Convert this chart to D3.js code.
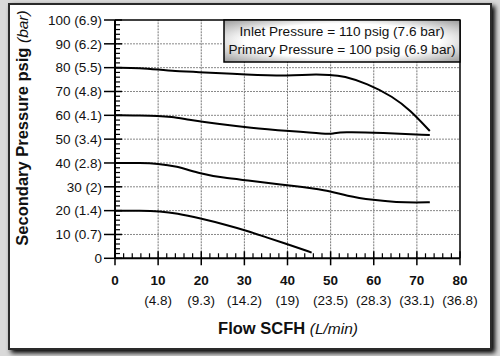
<!DOCTYPE html>
<html><head><meta charset="utf-8">
<script src="https://cdn.jsdelivr.net/npm/d3@7"></script>
<style>body{margin:0;background:#fff;}svg{display:block;font-family:"Liberation Sans",Arial,sans-serif;}</style>
</head><body>
<script>
// ---- data ----
const xTicks = [0,10,20,30,40,50,60,70,80];
const xSubLabels = ["", "(4.8)", "(9.3)", "(14.2)", "(19)", "(23.5)", "(28.3)", "(33.1)", "(36.8)"];
const yTicks = [0,10,20,30,40,50,60,70,80,90,100];
const yLabels = ["0","10 (0.7)","20 (1.4)","30 (2)","40 (2.8)","50 (3.4)","60 (4.1)","70 (4.8)","80 (5.5)","90 (6.2)","100 (6.9)"];
const legendLines = ["Inlet Pressure = 110 psig (7.6 bar)", "Primary Pressure = 100 psig (6.9 bar)"];

const flow80 = [0,6,10,14,18,31,40.6,45,50,53,58.4,64.5,68.4,73];
const psig80 = [80,79.9,79.2,78.5,78.3,77,76.5,77.2,77,76.5,73.4,67.8,62.2,53.4];
const flow60 = [0,6,10,13,16.7,23.7,31.3,40.6,49,50.5,52.5,62,73];
const psig60 = [60,59.9,59.8,59.4,58.3,56.4,54.8,53.4,52.2,52.3,53.1,52.7,51.7];
const flow40 = [0,6,10,14,20,25,31.3,40.6,49,53.7,60,65.3,70,73];
const psig40 = [40,40,39.7,38.8,35.4,33.8,32.6,30.5,28.7,26.1,24.4,23.5,23.4,23.5];
const flow20 = [0,6,10.4,14.3,19.7,25.9,31.3,35,40.6,45.6];
const psig20 = [20,20,19.7,18.9,16.8,14,11.2,8.8,5.6,2.4];

const W = 500, H = 356;
const svg = d3.select("body").append("svg").attr("width", W).attr("height", H);

// background + frame
const defs = svg.append("defs");
const f = defs.append("filter").attr("id","sh").attr("x","-10%").attr("y","-10%").attr("width","120%").attr("height","120%");
f.append("feGaussianBlur").attr("in","SourceAlpha").attr("stdDeviation",2.5);
f.append("feOffset").attr("dx",3).attr("dy",3).attr("result","b");
const fm = f.append("feMerge"); fm.append("feMergeNode").attr("in","b"); fm.append("feMergeNode").attr("in","SourceGraphic");
svg.append("rect").attr("width",W).attr("height",H).attr("fill","#d9d9d9");
svg.append("rect").attr("x",9).attr("y",4).attr("width",482).attr("height",345)
  .attr("fill","#fff").attr("stroke","#2a2a2a").attr("stroke-width",2).attr("filter","url(#sh)");

const x = d3.scaleLinear().domain([0,80]).range([115,460]);
const y = d3.scaleLinear().domain([0,100]).range([258.3,20]);

// grid
const g = svg.append("g");
g.selectAll(".vg").data(xTicks.slice(1,-1)).join("line")
  .attr("x1",d=>x(d)).attr("x2",d=>x(d)).attr("y1",y(0)).attr("y2",y(100))
  .attr("stroke","#777").attr("stroke-width",1).attr("stroke-dasharray","2,1");
g.selectAll(".hg").data(yTicks.slice(1,-1)).join("line")
  .attr("x1",x(0)).attr("x2",x(80)).attr("y1",d=>y(d)).attr("y2",d=>y(d))
  .attr("stroke","#888").attr("stroke-width",1).attr("stroke-dasharray","2,1");

// frame of plot
g.append("line").attr("x1",x(0)).attr("x2",x(80)).attr("y1",y(100)).attr("y2",y(100)).attr("stroke","#000").attr("stroke-width",1.5);
g.append("line").attr("x1",x(80)).attr("x2",x(80)).attr("y1",y(100)).attr("y2",y(0)).attr("stroke","#000").attr("stroke-width",1.5);

// minor ticks
const yMinor = d3.range(0,101,2).filter(v=>v%10!==0);
g.selectAll(".ym").data(yMinor).join("line")
  .attr("x1",x(0)).attr("x2",x(0)+5).attr("y1",d=>y(d)).attr("y2",d=>y(d)).attr("stroke","#000").attr("stroke-width",1.2);
const xMinor = d3.range(0,81,2).filter(v=>v%10!==0);
g.selectAll(".xm").data(xMinor).join("line")
  .attr("x1",d=>x(d)).attr("x2",d=>x(d)).attr("y1",y(0)).attr("y2",y(0)-5).attr("stroke","#000").attr("stroke-width",1.2);
// major ticks
g.selectAll(".yM").data(yTicks).join("line")
  .attr("x1",x(0)-11).attr("x2",x(0)+7).attr("y1",d=>y(d)).attr("y2",d=>y(d)).attr("stroke","#000").attr("stroke-width",1.5);
g.selectAll(".xM").data(xTicks).join("line")
  .attr("x1",d=>x(d)).attr("x2",d=>x(d)).attr("y1",y(0)+7).attr("y2",y(0)-7).attr("stroke","#000").attr("stroke-width",1.5);
// axis lines
g.append("line").attr("x1",x(0)).attr("x2",x(0)).attr("y1",y(0)).attr("y2",y(100)).attr("stroke","#000").attr("stroke-width",2);
g.append("line").attr("x1",x(0)).attr("x2",x(80)).attr("y1",y(0)).attr("y2",y(0)).attr("stroke","#000").attr("stroke-width",2);

// tick labels
g.selectAll(".yl").data(yTicks).join("text")
  .attr("x",x(0)-13).attr("y",d=>y(d)).attr("dy","0.35em").attr("text-anchor","end")
  .attr("font-size",13.5).attr("fill","#111").text((d,i)=>yLabels[i]);
g.selectAll(".xl").data(xTicks).join("text")
  .attr("x",d=>x(d)).attr("y",285).attr("text-anchor","middle")
  .attr("font-size",13.5).attr("font-weight","bold").attr("fill","#111").text(d=>d);
g.selectAll(".xs").data(xTicks).join("text")
  .attr("x",d=>x(d)).attr("y",305).attr("text-anchor","middle")
  .attr("font-size",13.5).attr("fill","#111").text((d,i)=>xSubLabels[i]);

// titles
const xt = svg.append("text").attr("x",288).attr("y",334).attr("text-anchor","middle").attr("font-size",16.5).attr("fill","#111");
xt.append("tspan").attr("font-weight","bold").text("Flow SCFH ");
xt.append("tspan").attr("font-style","italic").attr("font-size",15.5).text("(L/min)");
const yt = svg.append("text").attr("transform","translate(28,128) rotate(-90)").attr("text-anchor","middle").attr("font-size",16.5).attr("fill","#111");
yt.append("tspan").attr("font-weight","bold").text("Secondary Pressure psig ");
yt.append("tspan").attr("font-style","italic").attr("font-size",15.5).text("(bar)");

// curves
const line = d3.line().x(d=>x(d[0])).y(d=>y(d[1])).curve(d3.curveBasis);
const series = [[flow80,psig80],[flow60,psig60],[flow40,psig40],[flow20,psig20]];
g.selectAll(".c").data(series).join("path")
  .attr("d",s=>line(s[0].map((v,i)=>[v,s[1][i]])))
  .attr("fill","none").attr("stroke","#000").attr("stroke-width",2);

// legend
const lg = defs.append("radialGradient").attr("id","lgg").attr("cx","50%").attr("cy","50%").attr("r","75%");
lg.append("stop").attr("offset","55%").attr("stop-color","#fff");
lg.append("stop").attr("offset","100%").attr("stop-color","#8a8a8a");
svg.append("rect").attr("x",224).attr("y",20).attr("width",236).attr("height",42)
  .attr("fill","url(#lgg)").attr("stroke","#000").attr("stroke-width",1.5);
svg.selectAll(".lt").data(legendLines).join("text")
  .attr("x",342).attr("y",(d,i)=>36+i*18).attr("text-anchor","middle")
  .attr("font-size",13.6).attr("fill","#111").text(d=>d);
</script>
</body></html>
